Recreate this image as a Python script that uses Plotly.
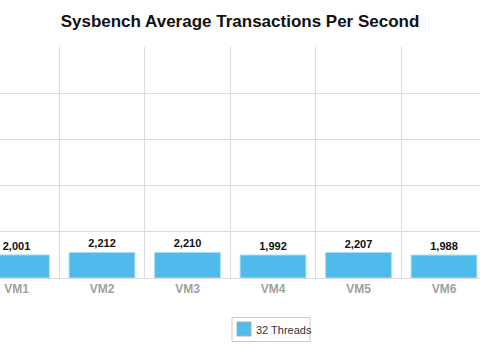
import plotly.graph_objects as go

categories = ["VM1", "VM2", "VM3", "VM4", "VM5", "VM6"]
tps_32_threads = [2001, 2212, 2210, 1992, 2207, 1988]
series_name = "32 Threads"
chart_title = "Sysbench Average Transactions Per Second"

bar_color = "#4FBBEB"
grid_color = "#DCDCDC"
font_family = "Liberation Sans, Arial, sans-serif"

W, H = 480, 348
M_L, M_R, M_T, M_B = 0, 0, 47, 70
plot_h = H - M_T - M_B


def py(pixel_y):
    """Convert a pixel row (from the top of the page) to paper y."""
    return (H - M_B - pixel_y) / plot_h


def px(pixel_x):
    return (pixel_x - M_L) / (W - M_L - M_R)


fig = go.Figure()
fig.add_trace(go.Bar(
    x=categories,
    y=tps_32_threads,
    name=series_name,
    marker=dict(color=bar_color, line=dict(color="#A9DDF5", width=1)),
    text=[f"{v:,}" for v in tps_32_threads],
    textposition="outside",
    textfont=dict(family=font_family, size=11, color="#111111"),
    texttemplate="<b>%{text}</b>",
    cliponaxis=False,
    showlegend=False,
))

# Compact boxed legend below the plot
fig.add_shape(type="rect", xref="paper", yref="paper",
              x0=px(232), x1=px(310), y0=py(317.5), y1=py(341.5),
              line=dict(color="#C8C8C8", width=1), fillcolor="white")
fig.add_shape(type="rect", xref="paper", yref="paper",
              x0=px(237), x1=px(251), y0=py(322), y1=py(336),
              line=dict(color="#B0B0B0", width=1), fillcolor=bar_color)
fig.add_annotation(xref="paper", yref="paper", x=px(254), y=py(329.5),
                   xanchor="left", yanchor="middle", showarrow=False,
                   text=series_name,
                   font=dict(family=font_family, size=11, color="#333333"))

fig.update_layout(
    width=W,
    height=H,
    margin=dict(l=M_L, r=M_R, t=M_T, b=M_B),
    paper_bgcolor="white",
    plot_bgcolor="white",
    bargap=0.23,
    showlegend=False,
    title=dict(
        text=f"<b>{chart_title}</b>",
        x=0.5,
        xanchor="center",
        y=0.94,
        yanchor="middle",
        font=dict(family=font_family, size=17, color="#111111"),
    ),
    xaxis=dict(
        type="category",
        range=[-0.193, 5.421],
        tickson="boundaries",
        showgrid=True,
        gridcolor=grid_color,
        gridwidth=1,
        showline=False,
        ticks="",
        tickfont=dict(family=font_family, size=12, color="#A0A0A0"),
        tickprefix="<b>",
        ticksuffix="</b>",
        ticklabelstandoff=2,
        zeroline=False,
    ),
    yaxis=dict(
        range=[0, 20000],
        dtick=4000,
        showgrid=True,
        gridcolor=grid_color,
        gridwidth=1,
        showticklabels=False,
        zeroline=True,
        zerolinecolor=grid_color,
        zerolinewidth=1,
        ticks="",
    ),
    font=dict(family=font_family),
)

fig.write_html("out.html")
